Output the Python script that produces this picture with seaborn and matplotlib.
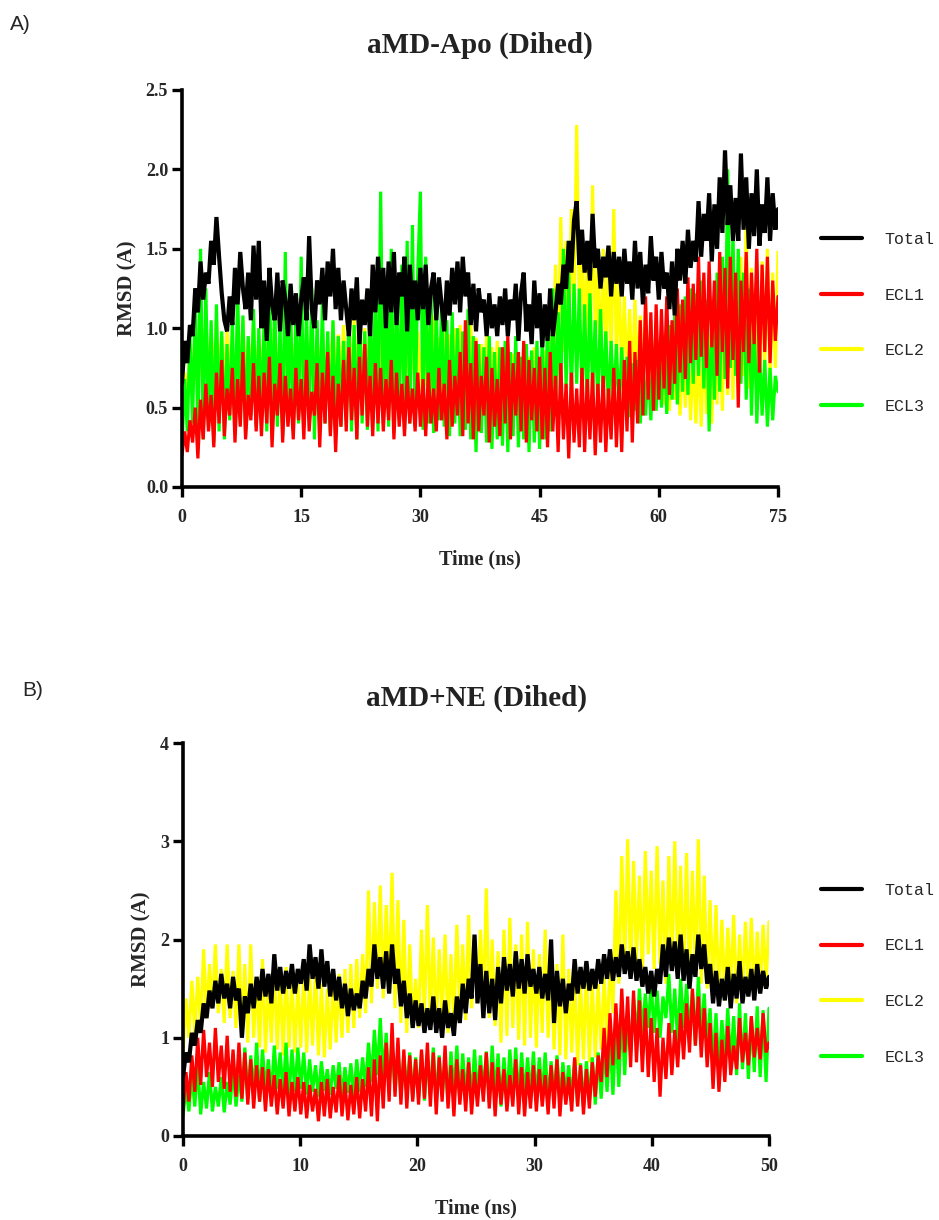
import numpy as np
import pandas as pd
import matplotlib
matplotlib.use("Agg")
import matplotlib.pyplot as plt
from matplotlib.lines import Line2D
import seaborn as sns

sns.set_theme(style="white")
plt.rcParams["font.family"] = ["Liberation Serif", "DejaVu Serif"]

# ---------------- Panel A: aMD-Apo (Dihed), 0-75 ns, RMSD in Angstrom ----------------
apo_total = [
    0.65, 0.92, 0.78, 1.02, 0.95, 1.25, 1.10, 1.42, 1.18, 1.35, 1.28, 1.55, 1.40, 1.70, 1.45,
    1.22, 1.05, 0.98, 1.20, 1.02, 1.38, 1.15, 1.48, 1.25, 1.12, 1.35, 1.05, 1.52, 1.18, 1.55,
    1.00, 1.30, 0.92, 1.38, 1.15, 1.05, 1.35, 0.98, 1.30, 1.18, 0.95, 1.28, 1.02, 1.22, 0.95,
    1.18, 1.32, 1.05, 1.58, 1.12, 1.00, 1.30, 1.15, 1.38, 1.05, 1.42, 1.20, 1.50, 1.12, 1.38,
    1.05, 1.30, 1.12, 0.95, 1.25, 1.05, 1.32, 0.90, 1.18, 1.02, 1.25, 0.95, 1.40, 1.10, 1.45,
    1.15, 1.38, 1.00, 1.42, 1.10, 1.48, 1.02, 1.35, 1.20, 1.45, 0.98, 1.40, 1.12, 1.30, 1.05,
    1.38, 1.12, 1.40, 1.02, 1.25, 1.35, 1.05, 1.32, 1.15, 0.98, 1.30, 1.08, 1.38, 1.15, 1.42,
    1.10, 1.45, 1.20, 1.35, 1.02, 1.28, 0.98, 1.25, 1.10, 1.18, 0.95, 1.22, 1.00, 1.15, 0.95,
    1.20, 1.02, 1.25, 0.95, 1.18, 1.05, 1.28, 0.92, 1.22, 1.35, 0.98, 1.15, 0.90, 1.30, 1.00,
    1.22, 0.88, 1.15, 0.92, 1.25, 0.95, 1.10, 1.28, 1.15, 1.40, 1.25, 1.55, 1.35, 1.68, 1.80,
    1.40, 1.62, 1.35, 1.55, 1.30, 1.72, 1.38, 1.50, 1.25, 1.45, 1.32, 1.52, 1.20, 1.48, 1.28,
    1.45, 1.20, 1.50, 1.28, 1.42, 1.18, 1.55, 1.25, 1.48, 1.15, 1.40, 1.22, 1.58, 1.30, 1.45,
    1.18, 1.48, 1.25, 1.35, 1.12, 1.42, 1.08, 1.50, 1.30, 1.55, 1.28, 1.62, 1.38, 1.55, 1.42,
    1.80, 1.45, 1.72, 1.55, 1.85, 1.42, 1.78, 1.50, 1.95, 1.60, 2.12, 1.65, 1.90, 1.55, 1.82,
    1.55, 2.10, 1.62, 1.95, 1.50, 1.85, 1.58, 2.00, 1.52, 1.78, 1.60, 1.95, 1.55, 1.85, 1.62, 1.75,
]
apo_ecl1 = [
    0.20, 0.35, 0.22, 0.42, 0.28, 0.50, 0.18, 0.55, 0.30, 0.65, 0.35, 0.58, 0.25, 0.72, 0.40,
    0.80, 0.32, 0.62, 0.45, 0.75, 0.28, 0.68, 0.38, 0.85, 0.30, 0.58, 0.42, 0.78, 0.35, 0.70,
    0.32, 0.72, 0.40, 0.82, 0.25, 0.65, 0.45, 0.78, 0.28, 0.70, 0.38, 0.62, 0.30, 0.75, 0.42,
    0.68, 0.30, 0.80, 0.35, 0.60, 0.45, 0.78, 0.25, 0.72, 0.40, 0.85, 0.32, 0.70, 0.22, 0.65,
    0.38, 0.80, 0.35, 0.88, 0.42, 0.75, 0.30, 0.82, 0.45, 0.90, 0.38, 0.70, 0.32, 0.78, 0.40,
    0.75, 0.35, 0.68, 0.42, 0.80, 0.30, 0.72, 0.38, 0.65, 0.32, 0.70, 0.40, 0.62, 0.35, 0.72,
    0.38, 0.68, 0.32, 0.72, 0.40, 0.62, 0.35, 0.75, 0.42, 0.65, 0.30, 0.80, 0.38, 0.70, 0.45,
    0.85, 0.32, 1.05, 0.40, 0.78, 0.30, 0.92, 0.35, 0.70, 0.45, 0.82, 0.28, 0.75, 0.38, 0.68,
    0.32, 0.88, 0.40, 0.95, 0.30, 0.78, 0.45, 0.85, 0.35, 0.92, 0.28, 0.80, 0.42, 0.75, 0.35,
    0.82, 0.30, 0.75, 0.25, 0.85, 0.35, 0.70, 0.22, 0.78, 0.30, 0.65, 0.18, 0.72, 0.28, 0.62,
    0.25, 0.75, 0.22, 0.68, 0.30, 0.72, 0.20, 0.65, 0.28, 0.70, 0.22, 0.62, 0.30, 0.75, 0.25,
    0.68, 0.22, 0.80, 0.35, 0.92, 0.28, 0.85, 0.40, 1.05, 0.45, 1.20, 0.55, 1.10, 0.48, 1.15,
    0.55, 1.12, 0.62, 1.20, 0.58, 1.05, 0.65, 1.25, 0.72, 1.18, 0.68, 1.32, 0.78, 1.28, 0.80,
    1.45, 0.82, 1.35, 0.75, 1.42, 0.88, 1.30, 0.70, 1.48, 0.85, 1.38, 0.62, 1.45, 0.80, 1.35,
    0.50, 1.30, 0.85, 1.48, 0.78, 1.35, 0.90, 1.50, 0.72, 1.40, 0.85, 1.45, 0.78, 1.30, 0.92, 1.20,
]
apo_ecl2 = [
    0.40, 0.72, 0.55, 0.88, 0.62, 1.02, 0.58, 0.95, 0.70, 1.08, 0.65, 0.92, 0.75, 1.05, 0.68,
    0.95, 0.62, 1.00, 0.70, 0.88, 0.58, 0.98, 0.66, 1.05, 0.60, 0.92, 0.72, 1.02, 0.62, 0.95,
    0.65, 1.00, 0.58, 0.92, 0.68, 1.05, 0.62, 0.90, 0.70, 0.98, 0.60, 1.02, 0.66, 0.94, 0.62,
    0.98, 0.64, 0.92, 0.70, 1.02, 0.58, 0.95, 0.66, 1.00, 0.62, 0.90, 0.68, 1.04, 0.60, 0.96,
    0.65, 1.02, 0.60, 0.94, 0.70, 1.06, 0.62, 0.92, 0.58, 1.00, 0.66, 0.95, 0.60, 1.03, 0.64,
    0.96, 0.58, 1.00, 0.62, 1.05, 0.56, 0.94, 0.64, 1.00, 0.58, 0.96, 0.62, 1.02, 0.56, 0.98,
    0.60, 0.95, 0.64, 1.00, 0.58, 1.08, 0.62, 0.94, 0.56, 1.02, 0.60, 0.96, 0.64, 1.00, 0.58,
    1.02, 0.56, 0.96, 0.62, 1.05, 0.55, 0.94, 0.52, 0.90, 0.58, 0.95, 0.54, 0.88, 0.50, 0.92,
    0.55, 0.86, 0.50, 0.90, 0.56, 0.84, 0.52, 0.80, 0.58, 0.86, 0.50, 0.82, 0.55, 0.88, 0.52,
    0.82, 0.56, 0.86, 0.60, 0.95, 0.65, 1.40, 0.75, 1.70, 0.85, 1.55, 0.95, 1.75, 1.10, 2.28,
    1.05, 1.60, 0.88, 1.45, 0.80, 1.90, 0.92, 1.38, 0.75, 1.50, 0.85, 1.42, 0.78, 1.75, 0.82,
    1.30, 0.70, 1.20, 0.65, 1.12, 0.62, 1.18, 0.66, 1.08, 0.60, 1.15, 0.58, 1.05, 0.62, 1.00,
    0.56, 0.98, 0.52, 0.88, 0.48, 0.92, 0.55, 0.96, 0.45, 0.86, 0.50, 0.90, 0.42, 0.84, 0.40,
    0.88, 0.38, 0.92, 0.46, 0.96, 0.40, 1.00, 0.52, 1.08, 0.48, 1.15, 0.58, 1.25, 0.55, 1.20,
    0.65, 1.45, 0.70, 1.70, 0.62, 1.38, 0.68, 1.30, 0.60, 1.42, 0.72, 1.50, 0.66, 1.35, 0.75, 1.48,
]
apo_ecl3 = [
    0.25, 0.68, 0.35, 0.95, 0.40, 1.20, 0.32, 1.50, 0.30, 1.25, 0.38, 1.05, 0.28, 1.15, 0.35,
    0.98, 0.30, 0.90, 0.42, 1.05, 0.35, 1.25, 0.40, 1.08, 0.32, 0.95, 0.45, 1.12, 0.38, 1.00,
    0.42, 1.05, 0.35, 1.35, 0.30, 1.18, 0.38, 1.02, 0.32, 1.48, 0.40, 1.15, 0.35, 1.08, 0.40,
    1.45, 0.38, 1.10, 0.42, 1.25, 0.30, 1.05, 0.36, 1.15, 0.40, 0.98, 0.34, 1.05, 0.40, 0.95,
    0.38, 0.92, 0.42, 1.08, 0.35, 1.02, 0.30, 1.15, 0.40, 0.98, 0.36, 1.20, 0.42, 1.25, 0.35,
    1.86, 0.40, 1.30, 0.38, 1.50, 0.34, 1.25, 0.42, 1.40, 0.36, 1.55, 0.40, 1.65, 0.38, 1.35,
    1.86, 0.36, 1.45, 0.40, 1.22, 0.34, 1.12, 0.42, 1.18, 0.38, 1.05, 0.32, 1.10, 0.40, 1.00,
    0.32, 0.98, 0.36, 1.12, 0.30, 0.95, 0.22, 0.90, 0.34, 0.88, 0.28, 0.95, 0.24, 0.85, 0.30,
    0.88, 0.26, 0.92, 0.22, 0.85, 0.32, 0.95, 0.25, 0.82, 0.30, 0.90, 0.22, 0.86, 0.28, 0.92,
    0.24, 0.95, 0.30, 1.05, 0.35, 1.25, 0.45, 1.10, 0.58, 1.50, 0.62, 1.35, 0.55, 1.28, 0.65,
    1.25, 0.55, 1.15, 0.48, 1.22, 0.60, 1.05, 0.50, 1.12, 0.55, 0.98, 0.48, 0.92, 0.52, 0.90,
    0.46, 0.88, 0.50, 0.82, 0.44, 0.78, 0.48, 0.80, 0.40, 0.76, 0.45, 0.82, 0.42, 0.85, 0.48,
    0.88, 0.50, 0.95, 0.46, 1.02, 0.55, 1.08, 0.52, 1.15, 0.60, 1.20, 0.58, 1.25, 0.65, 1.22,
    0.70, 1.30, 0.62, 1.18, 0.35, 1.10, 0.55, 1.35, 0.60, 1.45, 0.68, 2.00, 0.75, 1.60, 0.70,
    1.50, 0.65, 1.35, 0.55, 1.25, 0.45, 1.10, 0.40, 0.88, 0.45, 0.80, 0.38, 0.75, 0.42, 0.70, 0.60,
]

# ---------------- Panel B: aMD+NE (Dihed), 0-50 ns, RMSD in Angstrom ----------------
ne_total = [
    0.60, 0.85, 0.75, 1.05, 0.92, 1.18, 1.05, 1.35, 1.20, 1.48, 1.30, 1.58, 1.35, 1.65, 1.40, 1.55, 1.30, 1.62, 1.38, 1.50,
    1.00, 1.42, 1.25, 1.55, 1.30, 1.62, 1.38, 1.70, 1.42, 1.65, 1.35, 1.85, 1.48, 1.72, 1.45, 1.68, 1.50, 1.75, 1.45, 1.70,
    1.55, 1.80, 1.48, 1.95, 1.60, 1.82, 1.50, 1.90, 1.52, 1.78, 1.42, 1.70, 1.38, 1.62, 1.30, 1.55, 1.22, 1.50, 1.28, 1.45,
    1.30, 1.58, 1.40, 1.70, 1.52, 1.95, 1.60, 1.82, 1.50, 1.88, 1.45, 1.95, 1.55, 1.70, 1.32, 1.58, 1.20, 1.45, 1.10, 1.38,
    1.12, 1.35, 1.05, 1.30, 1.08, 1.42, 1.05, 1.30, 1.00, 1.38, 1.10, 1.25, 1.02, 1.42, 1.15, 1.55, 1.25, 1.60, 1.40, 2.05,
    1.35, 1.75, 1.20, 1.68, 1.25, 1.60, 1.18, 1.72, 1.35, 1.82, 1.48, 1.75, 1.42, 1.88, 1.50, 1.80, 1.45, 1.85, 1.52, 1.70,
    1.45, 1.72, 1.40, 1.65, 1.38, 2.00, 1.15, 1.68, 1.32, 1.60, 1.25, 1.55, 1.38, 1.80, 1.45, 1.72, 1.50, 1.78, 1.48, 1.70,
    1.50, 1.80, 1.55, 1.85, 1.60, 1.90, 1.58, 1.82, 1.62, 1.95, 1.65, 1.88, 1.60, 1.92, 1.58, 1.80, 1.52, 1.72, 1.45, 1.68,
    1.42, 1.70, 1.55, 1.95, 1.62, 2.02, 1.68, 1.98, 1.60, 2.05, 1.58, 1.90, 1.50, 1.85, 1.62, 2.05, 1.70, 1.95, 1.55, 1.75,
    1.35, 1.68, 1.32, 1.60, 1.38, 1.72, 1.30, 1.65, 1.40, 1.78, 1.35, 1.62, 1.42, 1.70, 1.38, 1.75, 1.45, 1.68, 1.50, 1.62,
]
ne_ecl1 = [
    0.25, 0.65, 0.35, 0.82, 0.45, 1.00, 0.52, 1.08, 0.60, 0.95, 0.50, 1.10, 0.55, 0.92, 0.48, 1.02, 0.45, 0.88, 0.40, 0.95,
    0.38, 0.85, 0.32, 0.78, 0.28, 0.72, 0.35, 0.70, 0.25, 0.68, 0.30, 0.62, 0.22, 0.58, 0.28, 0.65, 0.20, 0.55, 0.25, 0.60,
    0.22, 0.55, 0.18, 0.52, 0.25, 0.48, 0.15, 0.55, 0.20, 0.58, 0.18, 0.50, 0.24, 0.62, 0.20, 0.55, 0.16, 0.52, 0.22, 0.60,
    0.18, 0.58, 0.25, 0.70, 0.20, 0.78, 0.15, 0.82, 0.28, 0.95, 0.35, 1.15, 0.40, 1.00, 0.32, 0.88, 0.28, 0.82, 0.35, 0.78,
    0.32, 0.88, 0.38, 0.95, 0.30, 0.85, 0.22, 0.80, 0.35, 0.92, 0.28, 0.72, 0.20, 0.78, 0.32, 0.68, 0.25, 0.75, 0.22, 0.65,
    0.30, 0.72, 0.35, 0.85, 0.28, 0.75, 0.20, 0.70, 0.32, 0.68, 0.25, 0.62, 0.30, 0.78, 0.22, 0.70, 0.20, 0.65, 0.28, 0.72,
    0.25, 0.68, 0.30, 0.62, 0.22, 0.72, 0.28, 0.78, 0.20, 0.65, 0.32, 0.60, 0.25, 0.80, 0.30, 0.72, 0.22, 0.68, 0.28, 0.75,
    0.40, 0.82, 0.55, 1.10, 0.60, 1.25, 0.72, 1.35, 0.78, 1.50, 0.85, 1.42, 0.70, 1.48, 0.75, 1.38, 0.65, 1.30, 0.60, 1.20,
    0.55, 1.10, 0.40, 1.00, 0.58, 1.15, 0.62, 1.08, 0.70, 1.25, 0.78, 1.35, 0.85, 1.50, 0.92, 1.42, 0.80, 1.30, 0.70, 1.15,
    0.48, 1.05, 0.45, 0.98, 0.55, 1.12, 0.62, 0.92, 0.68, 1.20, 0.75, 1.05, 0.72, 1.22, 0.80, 1.10, 0.78, 1.25, 0.85, 0.95,
]
ne_ecl2 = [
    0.85, 1.40, 1.00, 1.58, 1.05, 1.62, 1.12, 1.90, 1.20, 1.75, 1.30, 1.95, 1.25, 1.70, 1.15, 1.95, 1.20, 1.68, 1.10, 1.95,
    1.05, 1.75, 0.95, 1.95, 1.00, 1.62, 0.90, 1.80, 0.85, 1.58, 0.95, 1.75, 0.88, 1.65, 0.82, 1.72, 0.90, 1.60, 0.85, 1.55,
    0.90, 1.68, 0.85, 1.62, 0.92, 1.72, 0.82, 1.55, 0.80, 1.50, 0.88, 1.58, 0.95, 1.65, 1.00, 1.70, 1.05, 1.75, 1.10, 1.80,
    1.20, 1.85, 1.25, 2.50, 1.35, 2.38, 1.50, 2.55, 1.40, 2.35, 1.45, 2.68, 1.30, 2.40, 1.15, 2.20, 1.05, 1.95, 1.10, 1.60,
    1.10, 2.10, 1.20, 2.35, 1.15, 2.02, 1.08, 1.90, 1.20, 2.05, 1.05, 1.85, 1.15, 2.15, 1.25, 1.95, 1.18, 2.25, 1.30, 2.00,
    1.35, 2.10, 1.30, 2.52, 1.20, 2.00, 1.12, 1.88, 0.95, 2.10, 1.02, 2.22, 1.10, 1.95, 0.98, 2.05, 0.92, 2.18, 1.00, 1.90,
    0.90, 1.85, 1.05, 2.10, 1.00, 1.80, 0.88, 1.75, 0.82, 2.05, 0.78, 1.70, 0.85, 1.65, 0.72, 1.60, 0.78, 1.70, 0.75, 1.58,
    0.80, 1.55, 0.88, 1.62, 0.92, 1.80, 1.25, 2.50, 1.55, 2.85, 1.72, 3.02, 1.60, 2.80, 1.78, 2.65, 1.62, 2.90, 1.85, 2.70,
    1.70, 2.95, 1.75, 2.60, 1.55, 2.85, 1.68, 3.00, 1.72, 2.75, 1.60, 2.88, 1.58, 2.70, 1.65, 3.02, 1.55, 2.65, 1.50, 2.40,
    1.45, 2.35, 1.40, 2.20, 1.38, 2.12, 1.50, 2.25, 1.35, 2.05, 1.42, 2.18, 1.45, 2.22, 1.40, 2.08, 1.48, 2.15, 1.55, 2.18,
]
ne_ecl3 = [
    0.20, 0.50, 0.25, 0.62, 0.30, 0.72, 0.22, 0.55, 0.28, 0.65, 0.25, 0.50, 0.30, 0.60, 0.24, 0.55, 0.32, 0.68, 0.30, 0.62,
    0.35, 0.90, 0.38, 0.82, 0.42, 0.95, 0.35, 0.88, 0.45, 0.78, 0.40, 0.92, 0.48, 0.85, 0.42, 0.95, 0.40, 0.88, 0.45, 0.90,
    0.48, 0.85, 0.42, 0.78, 0.45, 0.72, 0.40, 0.76, 0.46, 0.68, 0.42, 0.72, 0.48, 0.75, 0.40, 0.70, 0.44, 0.74, 0.40, 0.78,
    0.45, 0.80, 0.50, 0.95, 0.55, 1.08, 0.62, 1.20, 0.58, 1.05, 0.50, 0.92, 0.45, 0.88, 0.40, 0.82, 0.42, 0.85, 0.38, 0.80,
    0.40, 0.85, 0.36, 0.80, 0.42, 0.90, 0.35, 0.82, 0.40, 0.78, 0.34, 0.86, 0.42, 0.92, 0.36, 0.84, 0.40, 0.80, 0.35, 0.88,
    0.38, 0.82, 0.42, 0.86, 0.35, 0.92, 0.40, 0.84, 0.30, 0.80, 0.36, 0.88, 0.42, 0.90, 0.35, 0.85, 0.38, 0.80, 0.40, 0.86,
    0.36, 0.80, 0.40, 0.85, 0.34, 0.76, 0.40, 0.82, 0.35, 0.75, 0.42, 0.72, 0.36, 0.78, 0.32, 0.74, 0.30, 0.76, 0.35, 0.80,
    0.32, 0.85, 0.38, 0.92, 0.45, 1.00, 0.42, 1.10, 0.50, 1.28, 0.62, 1.22, 0.85, 1.40, 1.00, 1.50, 1.05, 1.45, 1.10, 1.55,
    1.05, 1.48, 1.00, 1.42, 1.20, 1.65, 1.05, 1.50, 0.95, 1.60, 1.10, 1.55, 1.02, 1.48, 0.92, 1.62, 1.00, 1.45, 0.88, 1.30,
    0.70, 1.25, 0.65, 1.18, 0.75, 1.30, 0.72, 1.22, 0.62, 1.35, 0.68, 1.25, 0.58, 1.20, 0.65, 1.32, 0.60, 1.28, 0.55, 1.30,
]

series_names = ["Total", "ECL1", "ECL2", "ECL3"]
series_colors = {"Total": "#000000", "ECL1": "#ff0000", "ECL2": "#ffff00", "ECL3": "#00ff00"}
draw_order = ["ECL2", "ECL3", "ECL1", "Total"]
line_widths = {"Total": 3.0, "ECL1": 2.3, "ECL2": 2.3, "ECL3": 2.3}


def to_frame(t_end, data):
    """Long-form table: each trajectory sampled evenly over 0..t_end ns."""
    frames = []
    for name, vals in data.items():
        t = np.linspace(0, t_end, len(vals))
        frames.append(pd.DataFrame({"time": t, "rmsd": vals, "series": name}))
    return pd.concat(frames, ignore_index=True)


panels = [
    dict(label="A)", title="aMD-Apo (Dihed)", t_end=75,
         data={"Total": apo_total, "ECL1": apo_ecl1, "ECL2": apo_ecl2, "ECL3": apo_ecl3},
         xticks=[0, 15, 30, 45, 60, 75], yticks=[0.0, 0.5, 1.0, 1.5, 2.0, 2.5],
         ytickfmt="{:.1f}", ylim=2.5,
         rect=[182 / 939, 1 - 487 / 1220, 596 / 939, 397 / 1220],
         label_xy=(10 / 939, 1 - 25 / 1220), legend_y=1 - 225 / 1220),
    dict(label="B)", title="aMD+NE (Dihed)", t_end=50,
         data={"Total": ne_total, "ECL1": ne_ecl1, "ECL2": ne_ecl2, "ECL3": ne_ecl3},
         xticks=[0, 10, 20, 30, 40, 50], yticks=[0, 1, 2, 3, 4],
         ytickfmt="{:d}", ylim=4,
         rect=[183 / 939, 1 - 1136 / 1220, 586 / 939, 393 / 1220],
         label_xy=(22 / 939, 1 - 690 / 1220), legend_y=1 - 876 / 1220),
]

fig = plt.figure(figsize=(9.39, 12.2), dpi=100)
fig.patch.set_facecolor("white")

for p in panels:
    ax = fig.add_axes(p["rect"])
    df = to_frame(p["t_end"], p["data"])
    for name in draw_order:
        sub = df[df["series"] == name]
        sns.lineplot(data=sub, x="time", y="rmsd", color=series_colors[name],
                     linewidth=line_widths[name], ax=ax, legend=False,
                     estimator=None, sort=False, solid_joinstyle="bevel")

    ax.set_xlim(0, p["t_end"])
    ax.set_ylim(0, p["ylim"])
    ax.set_xticks(p["xticks"])
    ax.set_yticks(p["yticks"])
    ax.set_xticklabels([str(v) for v in p["xticks"]], fontsize=13, fontweight="bold")
    ax.set_yticklabels([p["ytickfmt"].format(v) for v in p["yticks"]],
                       fontsize=13, fontweight="bold")
    ax.tick_params(axis="both", direction="out", length=7, width=2.4,
                   color="black", bottom=True, left=True)
    ax.tick_params(axis="x", pad=9)
    ax.tick_params(axis="y", pad=3)
    for side in ["top", "right"]:
        ax.spines[side].set_visible(False)
    for side in ["left", "bottom"]:
        ax.spines[side].set_color("black")
        ax.spines[side].set_linewidth(2.6)
    ax.set_facecolor("white")
    ax.grid(False)
    ax.set_xlabel("Time (ns)", fontsize=14.5, fontweight="bold", labelpad=17)
    ax.set_ylabel("RMSD (A)", fontsize=15, fontweight="bold", labelpad=6)
    ax.set_title(p["title"], fontsize=21, fontweight="bold", pad=27, color="#222222")

    fig.text(p["label_xy"][0], p["label_xy"][1], p["label"], fontsize=15,
             family="Liberation Sans", ha="left", va="center")

    handles = [Line2D([0], [0], color=series_colors[n], lw=3) for n in series_names]
    fig.legend(handles, series_names, loc="upper left",
               bbox_to_anchor=(814 / 939, p["legend_y"]), frameon=False,
               prop={"family": "Liberation Mono", "size": 12},
               handlelength=2.5, handletextpad=1.35, labelspacing=2.45,
               borderaxespad=0)

fig.savefig("out.png", dpi=100, facecolor="white")
